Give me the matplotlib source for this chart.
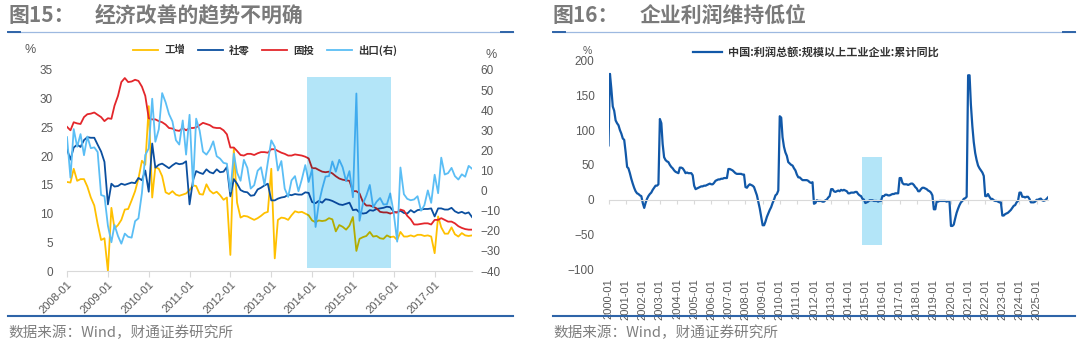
import matplotlib
matplotlib.use('Agg')
import matplotlib.pyplot as plt
import matplotlib.dates as mdates
import matplotlib.colors as mcolors
from matplotlib.lines import Line2D
from matplotlib.patches import Rectangle
import numpy as np
import pandas as pd

# ---- 图15 数据：2008-01 ~ 2017-12 月度同比 ----
ind_va = [  # 工增
    15.5, 15.4, 17.8, 15.7, 16.0, 16.0, 14.7, 12.8, 11.4, 8.2, 5.4, 5.7,
    0.0, 11.0, 7.4, 8.0, 8.9, 10.7, 10.8, 12.3, 13.9, 16.1, 19.2, 18.5,
    28.7, 12.8, 18.1, 17.8, 16.5, 13.7, 13.4, 13.9, 13.3, 13.1, 13.3, 13.5,
    14.1, 14.9, 14.8, 13.4, 13.3, 15.1, 14.0, 13.5, 13.8, 13.2, 12.4, 12.8,
    2.8, 21.3, 11.9, 9.3, 9.6, 9.5, 9.2, 8.9, 9.2, 9.6, 10.1, 10.3,
    17.8, 2.2, 8.9, 9.3, 9.2, 8.9, 9.7, 10.4, 10.2, 10.3, 10.0, 9.7,
    8.8, 8.5, 8.8, 8.7, 8.8, 9.2, 9.0, 6.9, 8.0, 7.7, 7.2, 7.9,
    9.4, 3.5, 5.6, 5.9, 6.1, 6.8, 6.0, 6.1, 5.7, 5.6, 6.2, 5.9,
    6.0, 5.4, 6.8, 6.0, 6.0, 6.2, 6.0, 6.3, 6.3, 6.1, 6.2, 6.0,
    3.1, 9.5, 7.6, 6.5, 6.5, 7.6, 6.4, 6.0, 6.6, 6.2, 6.1, 6.2,
]
retail = [  # 社零
    21.2, 19.4, 21.5, 22.0, 21.6, 22.8, 23.3, 23.2, 23.2, 22.0, 20.8, 19.0,
    11.6, 15.2, 14.7, 14.8, 15.2, 15.0, 15.2, 15.4, 15.3, 16.2, 15.8, 17.5,
    13.8, 22.2, 18.0, 18.5, 18.7, 18.3, 17.9, 18.4, 18.8, 18.6, 18.7, 19.1,
    11.6, 15.8, 17.4, 17.1, 16.9, 17.7, 17.2, 17.0, 17.7, 17.2, 17.3, 18.1,
    13.0, 16.0, 15.2, 14.1, 13.8, 13.7, 13.1, 13.2, 14.2, 14.5, 14.9, 15.2,
    12.3, 12.3, 12.6, 12.8, 12.9, 13.3, 13.2, 13.4, 13.3, 13.3, 13.7, 13.6,
    12.0, 11.8, 12.2, 11.9, 12.5, 12.4, 12.2, 11.9, 11.6, 11.5, 11.7, 11.9,
    10.6, 10.7, 10.2, 10.0, 10.1, 10.6, 10.5, 10.8, 10.9, 11.0, 11.2, 11.1,
    10.3, 10.2, 10.5, 10.1, 10.0, 10.6, 10.2, 10.6, 10.7, 10.8, 10.8, 10.9,
    9.5, 10.9, 10.9, 10.7, 10.7, 11.0, 10.4, 10.1, 10.3, 10.0, 10.2, 9.4,
]
fai = [  # 固投（累计）
    25.1, 24.5, 25.9, 25.7, 25.6, 26.8, 27.3, 27.4, 27.6, 27.2, 26.8, 26.1,
    26.6, 26.5, 28.8, 30.5, 32.9, 33.6, 32.9, 33.0, 33.3, 33.1, 32.1, 30.5,
    26.6, 26.4, 26.4, 26.1, 25.9, 25.5, 24.9, 24.8, 24.5, 24.4, 24.9, 24.5,
    24.9, 24.9, 25.0, 25.4, 25.8, 25.6, 25.4, 25.0, 24.9, 24.9, 24.5, 23.8,
    21.5, 21.5, 20.9, 20.2, 20.1, 20.4, 20.4, 20.2, 20.5, 20.7, 20.7, 20.6,
    21.2, 21.2, 20.9, 20.6, 20.4, 20.1, 20.1, 20.3, 20.2, 20.1, 19.9, 19.6,
    17.9, 17.9, 17.6, 17.3, 17.2, 17.3, 17.0, 16.5, 16.1, 15.9, 15.8, 15.7,
    13.9, 13.9, 13.5, 12.0, 11.4, 11.4, 11.2, 10.9, 10.3, 10.2, 10.2, 10.0,
    10.2, 10.2, 10.7, 10.5, 9.6, 9.0, 8.1, 8.1, 8.2, 8.3, 8.3, 8.1,
    8.9, 8.9, 9.2, 8.9, 8.6, 8.6, 8.3, 7.8, 7.5, 7.3, 7.2, 7.2,
]
exports = [  # 出口（右轴）
    26.6, 6.4, 30.6, 21.8, 28.1, 17.6, 26.9, 21.1, 21.5, 19.2, -2.2, -2.8,
    -17.5, -25.7, -17.1, -22.6, -26.4, -21.4, -23.0, -23.4, -15.2, -13.8, -1.2, 17.7,
    21.0, 45.7, 24.3, 30.5, 48.5, 43.9, 38.1, 34.4, 25.1, 22.9, 34.9, 17.9,
    37.7, 2.3, 35.8, 29.9, 19.4, 17.9, 20.4, 24.5, 17.1, 15.9, 13.8, 13.4,
    -0.5, 18.4, 8.9, 4.9, 15.3, 11.3, 1.0, 2.7, 9.9, 11.6, 2.9, 14.1,
    25.0, 21.8, 10.0, 14.7, 1.0, -3.1, 5.1, 7.2, -0.3, 5.6, 12.7, 4.3,
    10.6, -18.1, -6.6, 0.9, 7.0, 7.2, 14.5, 9.4, 15.3, 11.6, 4.7, 9.7,
    -3.3, 48.3, -15.0, -6.4, -2.5, 2.8, -8.3, -5.5, -3.7, -6.9, -6.8, -1.4,
    -11.2, -25.4, 11.5, -1.8, -4.1, -4.8, -4.4, -2.8, -10.0, -7.3, 0.1, -6.1,
    7.9, -1.3, 16.4, 8.0, 8.7, 11.3, 7.2, 5.5, 8.1, 6.9, 12.3, 10.9,
]
shade_a = ('2013-11-20', '2015-12-10')   # 阴影区间
shade_a_y = (-38.5, 56.5)                # 右轴刻度

# ---- 图16 数据：规模以上工业企业利润总额累计同比，2000-01 起 ----
profit_yoy = [
    78, 181, 160, 134, 128, 114, 110, 107, 100, 95, 88, 86,
    68, 47, 45, 38, 30, 23, 17, 12, 9, 8, 6, 5,
    -5, -12, -5, 1, 5, 8, 10, 14, 17, 20, 20, 22,
    116, 110, 80, 61, 57, 55, 54, 50, 47, 45, 42, 40,
    39, 38, 46, 46, 45, 42, 38, 39, 38, 38, 38, 35,
    20, 15, 16, 17, 18, 19, 19, 20, 20, 21, 22, 23,
    22, 22, 24, 27, 28, 29, 29, 30, 30, 31, 31, 31,
    44, 44, 43, 42, 40, 38, 37, 37, 37, 37, 36, 36,
    18, 17, 20, 22, 21, 20, 18, 12, 6, -3, -13, -25,
    -37, -37, -32, -25, -20, -15, -11, -5, 0, 6, 8, 13,
    120, 118, 90, 76, 68, 63, 54, 52, 50, 49, 45, 42,
    36, 32, 32, 30, 28, 28, 28, 28, 27, 25, 24, 25,
    -6, -5, -1, -2, -2, -2, -3, -3, -1, 0, 3, 5,
    15, 15, 12, 11, 12, 13, 12, 14, 13, 14, 13, 12,
    9, 9, 10, 10, 10, 11, 11, 8, 6, 5, 1, 0,
    -5, -4, -3, -1, -1, -1, -2, -2, -2, -3, -2, -2,
    5, 5, 7, 7, 6, 6, 7, 8, 8, 9, 9, 9,
    31, 31, 24, 22, 22, 22, 21, 22, 23, 23, 21, 18,
    16, 12, 12, 15, 17, 17, 16, 15, 13, 12, 10, 6,
    -14, -14, -3, -3, -2, -2, -2, -2, -2, -3, -2, -3,
    -38, -38, -36, -27, -19, -13, -8, -4, -2, 1, 2, 4,
    179, 179, 137, 106, 83, 67, 57, 49, 45, 42, 39, 34,
    5, 5, 8, 4, 1, 1, -1, -2, -2, -3, -4, -4,
    -23, -23, -21, -20, -19, -17, -15, -12, -9, -8, -4, -2,
    10, 10, 4, 4, 3, 4, 4, 1, -4, -4, -4, -3,
    -0.3, -0.3, 0.8, 1.4, -1.1, -1.8, -1.0, 0.9, 3.2,
]
shade_b = ('2014-11-01', '2016-01-01')
shade_b_y = (-65, 62)

W, H = 1080, 350
CJK = ['Noto Sans CJK SC', 'DejaVu Sans']
plt.rcParams['font.family'] = ['Liberation Sans', 'Noto Sans CJK SC', 'DejaVu Sans']

C_IND, C_RET, C_FAI, C_EXP = '#FFC000', '#0B4F9F', '#E3262B', '#5BBEF5'
C_PROFIT = '#1158A8'
C_BOX = '#B3E5F8'
C_TICK = '#595959'
C_AXIS = '#D9D9D9'


def fx(px):
    return px / W


def fy(py):
    return 1 - py / H


def decorate(x0, x1, num, title):
    # 标题、分隔线与数据来源
    fig.text(fx(x0), fy(15), num, fontsize=15, color='#7A7A7A', family=CJK,
             weight='bold', va='center')
    fig.text(fx(x0 + 87), fy(15), title, fontsize=15, color='#7A7A7A', family=CJK,
             weight='bold', va='center')
    fig.add_artist(Line2D([fx(x0), fx(x1)], [fy(32), fy(32)], color='#9DB9E0',
                          lw=0.9, transform=fig.transFigure))
    for a, b in [(x0, x0 + 12), (x1 - 12, x1)]:
        fig.add_artist(Line2D([fx(a), fx(b)], [fy(32), fy(32)], color='#2E64A8',
                              lw=1.4, transform=fig.transFigure))
    fig.add_artist(Line2D([fx(x0), fx(x1)], [fy(316), fy(316)], color='#2E64A8',
                          lw=1.5, transform=fig.transFigure))
    fig.text(fx(x0), fy(333), '数据来源：Wind，财通证券研究所', fontsize=10.5,
             color='#7F7F7F', family=CJK, va='center')


fig = plt.figure(figsize=(W / 100, H / 100), dpi=100)

# ---------------- 图15 ----------------
months_a = pd.date_range('2008-01-01', periods=len(fai), freq='MS')
ax = fig.add_axes([fx(67), fy(271), fx(472 - 67), (271 - 70) / H])
axr = ax.twinx()

ax.plot(months_a, ind_va, color=C_IND, lw=1.3, label='工增', zorder=2)
ax.plot(months_a, retail, color=C_RET, lw=1.3, label='社零', zorder=2)
ax.plot(months_a, fai, color=C_FAI, lw=1.3, label='固投', zorder=2)
axr.plot(months_a, exports, color=C_EXP, lw=1.3, label='出口(右)', zorder=2)
handles = ax.get_lines() + axr.get_lines()

ax.set_xlim(months_a[0], months_a[-1])
ax.set_ylim(0, 35)
ax.set_yticks(range(0, 36, 5))
axr.set_ylim(-40, 60)
axr.set_yticks(range(-40, 61, 10))
ax.xaxis.set_major_locator(mdates.YearLocator(1, month=1, day=1))
ax.xaxis.set_major_formatter(mdates.DateFormatter('%Y-%m'))
for a in (ax, axr):
    for s in ('top', 'left', 'right'):
        a.spines[s].set_visible(False)
axr.spines['bottom'].set_visible(False)
ax.spines['bottom'].set_color(C_AXIS)
ax.tick_params(axis='x', length=4, color=C_AXIS, labelsize=8, labelcolor=C_TICK, pad=2)
plt.setp(ax.get_xticklabels(), rotation=45, ha='right', rotation_mode='anchor')
ax.tick_params(axis='y', length=0, labelsize=8.5, labelcolor=C_TICK, pad=10)
axr.tick_params(axis='y', length=0, labelsize=8.5, labelcolor=C_TICK, pad=6)

# 阴影区：正片叠底效果，区内线条颜色与底色相乘
t0, t1 = mdates.date2num(pd.Timestamp(shade_a[0])), mdates.date2num(pd.Timestamp(shade_a[1]))
box = Rectangle((t0, shade_a_y[0]), t1 - t0, shade_a_y[1] - shade_a_y[0],
                facecolor=C_BOX, edgecolor='none', zorder=3)
axr.add_patch(box)
box_rgb = np.array(mcolors.to_rgb(C_BOX))
for ln in list(handles):
    xy = ln.get_xydata()
    tint = tuple(np.array(mcolors.to_rgb(ln.get_color())) * box_rgb)
    dup = Line2D(xy[:, 0], xy[:, 1], color=tint, lw=ln.get_linewidth(),
                 transform=ln.get_transform(), zorder=4)
    axr.add_artist(dup)
    dup.set_clip_path(box)   # 须在 add_artist 之后设置，否则被轴区域覆盖

fig.text(fx(30), fy(50), '%', fontsize=9, color=C_TICK, ha='center', va='center')
fig.text(fx(491), fy(55), '%', fontsize=9, color=C_TICK, ha='center', va='center')
fig.legend(handles=handles, loc='center', bbox_to_anchor=(fx(265), fy(50)), ncol=4,
           frameon=False, prop=dict(family=CJK, size=7.5, weight='bold'),
           labelcolor='#333333', handlelength=2.4, handletextpad=0.6,
           columnspacing=1.2)
decorate(8, 513, '图15：', '经济改善的趋势不明确')

# ---------------- 图16 ----------------
months_b = pd.date_range('2000-01-01', periods=len(profit_yoy), freq='MS')
bx = fig.add_axes([fx(608.5), fy(269), fx(1048 - 608.5), (269 - 60.7) / H])
bx.plot(months_b, profit_yoy, color=C_PROFIT, lw=1.6, zorder=2,
        label='中国:利润总额:规模以上工业企业:累计同比')
b0, b1 = mdates.date2num(pd.Timestamp(shade_b[0])), mdates.date2num(pd.Timestamp(shade_b[1]))
bx.add_patch(Rectangle((b0, shade_b_y[0]), b1 - b0, shade_b_y[1] - shade_b_y[0],
                       facecolor=C_BOX, edgecolor='none', zorder=1))

bx.set_xlim(months_b[0], months_b[-1])
bx.set_ylim(-100, 200)
bx.set_yticks(range(-100, 201, 50))
bx.xaxis.set_major_locator(mdates.YearLocator(1, month=1, day=1))
bx.xaxis.set_major_formatter(mdates.DateFormatter('%Y-%m'))
for s in ('top', 'left', 'right'):
    bx.spines[s].set_visible(False)
bx.spines['bottom'].set_position(('data', 0))
bx.spines['bottom'].set_color(C_AXIS)
bx.tick_params(axis='x', length=3, color=C_AXIS, labelsize=8, labelcolor=C_TICK,
               pad=54, labelrotation=90)
bx.tick_params(axis='y', length=0, labelsize=8.5, labelcolor=C_TICK, pad=10)

fig.text(fx(587), fy(51), '%', fontsize=7.5, color=C_TICK, ha='center', va='center')
fig.legend(handles=bx.get_lines(), loc='center', bbox_to_anchor=(fx(816), fy(52)),
           frameon=False, prop=dict(family=CJK, size=8, weight='bold'),
           labelcolor='#333333', handlelength=2.6, handletextpad=0.6)
decorate(553, 1075, '图16：', '企业利润维持低位')

fig.savefig('out.png', dpi=100)
